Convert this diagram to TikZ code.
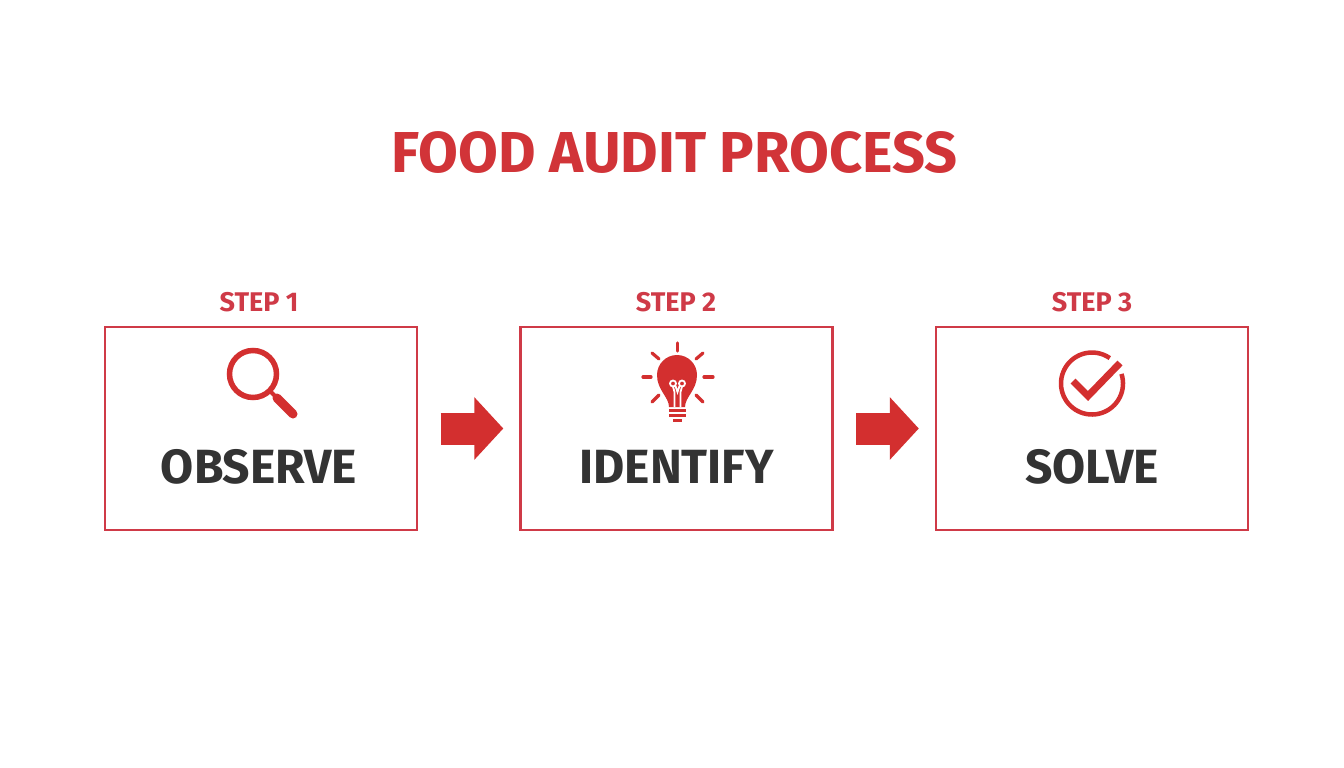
\documentclass[tikz,border=0pt]{standalone}
\usepackage{fontspec}
\usepackage{xcolor}
\usepackage{tikz}
\usetikzlibrary{arrows.meta}
\setmainfont{Fira Sans}
\definecolor{auditred}{HTML}{D32F2F}
\definecolor{edgered}{HTML}{CF3A47}
\definecolor{titlered}{HTML}{D13438}
\definecolor{darktext}{HTML}{333333}
\tikzset{
    stepbox/.style={draw=edgered,line width=2.4pt,minimum width=312pt,minimum height=203.5pt,inner sep=0pt},
    steplabel/.style={text=edgered,font=\fontsize{27}{27}\selectfont\bfseries},
    stepname/.style={text=darktext,font=\fontsize{48}{48}\selectfont\bfseries},
    flowarrow/.style={auditred,line width=32pt,-{Triangle[length=29pt,width=61pt]},shorten <=22.5pt,shorten >=16pt},
    ray/.style={auditred,line width=3.2pt,line cap=round},
    filament/.style={white,line width=1.8pt}
}
\begin{document}
\begin{tikzpicture}[x=1pt,y=-1pt]
    \useasboundingbox (0,0) rectangle (1344,768);
    \fill[white] (0,0) rectangle (1344,768);
    \node (title) at (674.5,152.5) [text=titlered,font=\fontsize{57.7}{58}\selectfont\bfseries] {FOOD AUDIT PROCESS};
    \node[stepbox] (observe) at (261,428.5) {};
    \node[stepbox] (identify) at (676.5,428.5) {};
    \node[stepbox] (solve) at (1092,428.5) {};
    \node[steplabel] (step1) at (259,302.5) {STEP 1};
    \node[steplabel] (step2) at (676,302.5) {STEP 2};
    \node[steplabel] (step3) at (1092,302.5) {STEP 3};
    \node[stepname] (observetext) at (259,467) {OBSERVE};
    \node[stepname] (identifytext) at (676.5,467) {IDENTIFY};
    \node[stepname] (solvetext) at (1092,467) {SOLVE};
    \draw[flowarrow] (observe) -- (identify);
    \draw[flowarrow] (identify) -- (solve);
    \draw[auditred,line width=5.5pt] (253,374) circle[radius=23.5];
    \draw[auditred,line width=4pt] (270,391) -- (278,399);
    \draw[auditred,line width=9pt,line cap=round] (277,398) -- (293,414);
    \fill[auditred] (669,407) .. controls (669,397) and (657,390) .. (657,375) arc[start angle=180,end angle=360,radius=20] .. controls (697,390) and (685,397) .. (685,407) -- cycle;
    \draw[filament] (673,383.5) circle[radius=3];
    \draw[filament] (682,383.5) circle[radius=3];
    \draw[filament] (674.5,407) -- (674.5,392) -- (673,386.5);
    \draw[filament] (680.5,407) -- (680.5,392) -- (682,386.5);
    \draw[filament] (675.5,386) -- (677.5,392) -- (679.5,386);
    \draw[auditred,line width=3pt] (669,410) -- (686,410);
    \draw[auditred,line width=3pt] (669,415) -- (686,415);
    \draw[auditred,line width=3pt] (673,420) -- (682,420);
    \draw[ray] (677.5,343) -- (677.5,351);
    \draw[ray] (643,377) -- (651,377);
    \draw[ray] (704,377) -- (713,377);
    \draw[ray] (652,353) -- (659,359);
    \draw[ray] (703,353) -- (696,359);
    \draw[ray] (652,402) -- (659,395);
    \draw[ray] (703,402) -- (696,395);
    \draw[auditred,line width=4.5pt] (1092,383.5) ++(-18:31) arc[start angle=-18,end angle=305,radius=31];
    \draw[auditred,line width=7pt] (1073,381) -- (1088,396) -- (1120,363);
\end{tikzpicture}
\end{document}
